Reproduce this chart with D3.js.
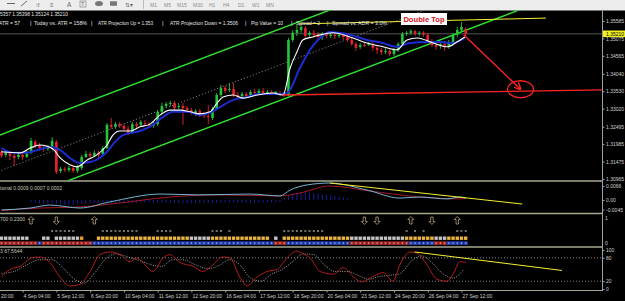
<!DOCTYPE html>
<html><head><meta charset="utf-8">
<script src="https://cdn.jsdelivr.net/npm/d3@7"></script>
<style>
body{margin:0;background:#000;overflow:hidden}
svg{display:block}
text{font-family:"Liberation Sans",Arial,sans-serif}
</style></head>
<body><svg id="c" width="625" height="301"></svg>
<script>
// ================= DATA =================
const opens = [1.3176,1.3167,1.3173,1.3164,1.3161,1.3167,1.3161,1.3173,1.3205,1.3196,
1.3190,1.3184,1.3187,1.3205,1.3120,1.3126,1.3123,1.3129,1.3120,1.3129,
1.3161,1.3170,1.3164,1.3173,1.3170,1.3187,1.3255,1.3249,1.3257,1.3252,
1.3243,1.3234,1.3257,1.3255,1.3260,1.3257,1.3252,1.3257,1.3293,1.3310,
1.3316,1.3319,1.3307,1.3310,1.3304,1.3298,1.3290,1.3295,1.3287,1.3281,
1.3275,1.3301,1.3342,1.3363,1.3357,1.3360,1.3342,1.3339,1.3345,1.3342,
1.3351,1.3348,1.3354,1.3348,1.3351,1.3348,1.3348,1.3345,1.3342,1.3503,
1.3524,1.3532,1.3538,1.3518,1.3524,1.3518,1.3512,1.3521,1.3515,1.3518,
1.3515,1.3518,1.3515,1.3503,1.3491,1.3483,1.3488,1.3488,1.3491,1.3480,
1.3474,1.3468,1.3471,1.3462,1.3474,1.3491,1.3521,1.3524,1.3529,1.3521,
1.3524,1.3518,1.3500,1.3488,1.3486,1.3491,1.3483,1.3497,1.3518,1.3532,
1.35357];
const highs = [1.3181,1.3179,1.3179,1.3170,1.3173,1.3173,1.3179,1.3217,1.3211,1.3202,
1.3196,1.3196,1.3219,1.3211,1.3132,1.3132,1.3135,1.3135,1.3138,1.3167,
1.3179,1.3176,1.3181,1.3179,1.3193,1.3260,1.3275,1.3263,1.3263,1.3257,
1.3252,1.3263,1.3263,1.3269,1.3269,1.3263,1.3263,1.3298,1.3319,1.3322,
1.3325,1.3325,1.3316,1.3319,1.3310,1.3304,1.3301,1.3301,1.3293,1.3313,
1.3307,1.3348,1.3372,1.3369,1.3377,1.3377,1.3351,1.3351,1.3351,1.3357,
1.3360,1.3360,1.3363,1.3357,1.3357,1.3354,1.3354,1.3351,1.3509,1.3532,
1.3547,1.3547,1.3544,1.3529,1.3532,1.3526,1.3526,1.3526,1.3526,1.3524,
1.3526,1.3524,1.3524,1.3509,1.3497,1.3494,1.3494,1.3497,1.3497,1.3486,
1.3480,1.3480,1.3477,1.3480,1.3497,1.3526,1.3529,1.3535,1.3532,1.3529,
1.3529,1.3524,1.3506,1.3494,1.3497,1.3500,1.3503,1.3524,1.3541,1.3556,
1.35398];
const lows = [1.3158,1.3161,1.3152,1.3135,1.3155,1.3152,1.3158,1.3170,1.3187,1.3181,
1.3176,1.3179,1.3181,1.3111,1.3114,1.3117,1.3117,1.3114,1.3114,1.3123,
1.3158,1.3158,1.3161,1.3158,1.3167,1.3184,1.3243,1.3243,1.3246,1.3237,
1.3225,1.3228,1.3246,1.3249,1.3252,1.3246,1.3246,1.3252,1.3287,1.3304,
1.3310,1.3298,1.3301,1.3255,1.3293,1.3284,1.3281,1.3278,1.3275,1.3257,
1.3269,1.3298,1.3336,1.3348,1.3351,1.3336,1.3331,1.3333,1.3333,1.3336,
1.3342,1.3345,1.3342,1.3345,1.3342,1.3342,1.3339,1.3336,1.3339,1.3497,
1.3515,1.3524,1.3509,1.3512,1.3509,1.3506,1.3503,1.3509,1.3509,1.3506,
1.3509,1.3503,1.3497,1.3486,1.3471,1.3477,1.3483,1.3486,1.3471,1.3462,
1.3459,1.3462,1.3456,1.3456,1.3468,1.3486,1.3515,1.3518,1.3515,1.3515,
1.3512,1.3494,1.3483,1.3474,1.3477,1.3471,1.3477,1.3491,1.3512,1.3526,
1.35124];
const closes = [1.3164,1.3173,1.3164,1.3158,1.3167,1.3161,1.3176,1.3208,1.3193,1.3187,
1.3184,1.3190,1.3208,1.3117,1.3126,1.3123,1.3129,1.3120,1.3132,1.3161,
1.3170,1.3164,1.3173,1.3167,1.3187,1.3255,1.3249,1.3257,1.3252,1.3243,
1.3231,1.3257,1.3252,1.3263,1.3257,1.3252,1.3257,1.3293,1.3310,1.3316,
1.3319,1.3304,1.3310,1.3304,1.3298,1.3290,1.3295,1.3287,1.3281,1.3278,
1.3301,1.3342,1.3363,1.3354,1.3360,1.3342,1.3336,1.3345,1.3339,1.3351,
1.3348,1.3354,1.3348,1.3351,1.3348,1.3351,1.3345,1.3342,1.3503,1.3524,
1.3532,1.3541,1.3515,1.3524,1.3518,1.3512,1.3521,1.3515,1.3518,1.3515,
1.3518,1.3512,1.3503,1.3491,1.3480,1.3488,1.3487,1.3491,1.3480,1.3474,
1.3468,1.3471,1.3462,1.3474,1.3491,1.3521,1.3524,1.3529,1.3521,1.3524,
1.3518,1.3500,1.3488,1.3483,1.3491,1.3483,1.3497,1.3518,1.3532,1.3541,
1.35210];

// moving averages: [bar, price]
const fastMA = [[0,1.3176],[4.4,1.3173],[6.8,1.3187],[9.1,1.3196],[12.2,1.3184],[13.9,1.3158],[16.2,1.3138],[17.9,1.3132],[20.3,1.3152],[22.6,1.3167],[25,1.3196],[26.4,1.3225],[28.1,1.3237],[30.5,1.3237],[32.8,1.3249],[35.2,1.3257],[37.6,1.3284],[39.9,1.3298],[42.3,1.3298],[44.7,1.3293],[47,1.3287],[49.4,1.3293],[51.1,1.3319],[52.5,1.3336],[54.9,1.3342],[57.2,1.3333],[60.5,1.3342],[64.3,1.3348],[66.7,1.3342],[68.4,1.3421],[70,1.3468],[71.4,1.3503],[73.8,1.3512],[75.5,1.3518],[78.6,1.3524],[82.6,1.3512],[86.6,1.3494],[90.4,1.3483],[93.7,1.3474],[96.1,1.3503],[98.5,1.3509],[102.3,1.3494],[105.6,1.3483],[107.9,1.3497],[109.8,1.3512]];
const slowMA = [[0,1.3187],[2.7,1.3173],[6,1.3173],[8.4,1.3181],[11.5,1.3190],[13.9,1.3181],[16.2,1.3158],[18.6,1.3143],[21,1.3146],[23.3,1.3158],[25,1.3176],[26.9,1.3205],[28.8,1.3225],[32.8,1.3237],[35.9,1.3255],[38.3,1.3278],[40.6,1.3293],[44,1.3293],[47,1.3284],[49.4,1.3290],[51.8,1.3307],[54.9,1.3328],[58.2,1.3336],[61.3,1.3345],[66,1.3345],[67.7,1.3348],[70.7,1.3421],[73.1,1.3474],[75.5,1.3509],[77.8,1.3526],[82.6,1.3518],[86.6,1.3503],[90.4,1.3494],[93.7,1.3483],[96.8,1.3494],[100.8,1.3497],[103.9,1.3497],[107,1.3494],[109.8,1.3509]];

// drawn objects: [bar, price]
const channelUpper = [[0,1.3227],[70,1.3554]];
const channelMid   = [[0,1.3122],[100,1.3589]];
const channelLower = [[15,1.3088],[100,1.3485]];
const resistanceLine = [[70.5,1.3550],[129,1.3567]];
const targetLine = [[66.7,1.3342],[142.3,1.3357]];
const projection = [[109.5,1.3518],[123.0,1.3359]];
const bidPrice = 1.35210;

const priceTicks = [1.35585,1.35075,1.34565,1.34040,1.33530,1.33020,1.32495,1.31985,1.31475,1.30965];
const dateBars = [-3,5,13,21,29,37,45,53,61,69,77,85,93,101,109];
const dateLabels = ["20:00","4 Sep 04:00","5 Sep 12:00","6 Sep 20:00","10 Sep 04:00","11 Sep 12:00","12 Sep 20:00","16 Sep 04:00","17 Sep 12:00","18 Sep 20:00","20 Sep 04:00","23 Sep 12:00","24 Sep 20:00","26 Sep 04:00","27 Sep 12:00"];

// MACD panel
const macdMain = [[0,-0.0047],[6.8,-0.0038],[11.5,-0.0024],[18.6,-0.0038],[25.7,-0.0009],[37.6,0.0028],[47,0.0024],[58.9,0.0028],[66,0.0019],[68.4,0.0047],[72.4,0.0071],[77.8,0.0080],[86.6,0.0047],[94.4,0.0009],[99.2,0.0014],[105.6,0.0005],[108.7,0.0014],[110,0.0009]];
const macdSignal = [[0,-0.0050],[9.1,-0.0038],[18.6,-0.0033],[28.1,-0.0014],[39.9,0.0014],[51.8,0.0024],[66,0.0019],[70.7,0.0033],[77.8,0.0066],[87,0.0043],[99.2,0.0014],[108.7,0.0005],[110,0.0007]];
const macdHist = [0,0,0,0,0,0,0,
-0.0010,-0.0014,-0.0016,-0.0018,-0.0016,-0.0014,-0.0018,-0.0022,-0.0024,-0.0024,-0.0022,-0.0020,-0.0018,
-0.0016,-0.0015,-0.0014,-0.0014,-0.0012,-0.0012,-0.0014,-0.0015,-0.0016,-0.0016,
-0.0015,-0.0014,-0.0014,-0.0013,-0.0012,-0.0012,-0.0011,-0.0012,-0.0012,-0.0013,
-0.0014,-0.0014,-0.0015,-0.0015,-0.0016,-0.0016,-0.0015,-0.0015,-0.0014,-0.0014,
-0.0013,-0.0013,-0.0012,-0.0012,-0.0012,-0.0013,-0.0013,-0.0014,-0.0014,-0.0014,
-0.0013,-0.0013,-0.0012,-0.0012,-0.0012,-0.0012,-0.0010,
0.0010,0.0022,0.0030,0.0034,0.0036,0.0036,0.0035,0.0033,0.0030,0.0028,0.0025,0.0022,0.0019,0.0016,0.0012,0.0008,0.0004,
0,0,0,0,0,0,0,0,0,0,0,0,0,0,0,0,0,0,0,0,0,0,0,0,0,0,0];
const macdTrend = [[77.8,0.0080],[123.4,-0.0019]];
const macdTicks = [0.0066,0,-0.0045];
const macdTickLabels = ["0.0066","0.00","-0.0045"];

// signal panel
const arrowsUp = [7,22,97,108];
const arrowsDown = [13,86,89,102];
const crossBars = [12,13,14,15,16,17,24,25,26,27,28,29,30,31,32,37,38,39,40,50,51,52,54,67,68,69,70,71,72,73,74,75,76,96,98,100,108,109,110];
const squareRuns = [["g",7],["",3],["g",2],["",1],["g",6],["o",1],["",3],["y",22],["g",5],["y",14],["",1],["g",1],["",1],["y",16],["g",13],["y",7],["g",3],["y",5]];
const dotRuns = [["r",9],["b",1],["r",12],["b",43],["r",3],["b",15],["r",14],["b",6],["r",3],["b",5]];

// stochastic panel: [bar, value]
const stochK = [[0,32],[2,50],[4.4,58],[7.2,80],[9.1,82],[11.5,68],[13.9,30],[16.2,8],[18.6,12],[21,45],[23.3,88],[25.7,95],[28.1,88],[30.5,70],[32.1,80],[33.5,68],[35.9,45],[38.3,80],[39.9,88],[42.3,68],[45.4,58],[47.7,45],[50.1,62],[52.3,82],[54.1,80],[56.5,30],[58.2,8],[60.5,30],[62.9,45],[65.3,50],[67.7,80],[69.9,97],[71.5,90],[73.1,80],[75.5,45],[78.6,38],[81,55],[83.3,32],[85.4,18],[88,32],[90.4,42],[92.8,20],[94.4,62],[96.8,95],[98.5,92],[100.8,62],[103.2,25],[105.6,20],[107,38],[108.7,70],[110,68]];
const stochD = [[0,40],[3,45],[6,62],[9,75],[12,75],[14.5,55],[17,28],[19.5,15],[22,40],[24.5,75],[27,90],[30,82],[33,72],[35.5,62],[38,58],[40.5,75],[43,75],[46,62],[49,52],[51.5,60],[54,75],[56.5,62],[59,28],[61.5,20],[64,38],[66.5,50],[69,70],[71.5,90],[74,88],[76.5,62],[79,45],[82,45],[84.5,35],[87,25],[89.5,32],[92,35],[94.5,40],[97,70],[99.5,85],[102,68],[104.5,40],[107,28],[109.5,50]];
const stochTrend = [[97.9,95],[132.8,47.5]];
const stochTicks = [100,80,20,0];
const stochLevels = [80,20];

const timeframes = ["M1","M5","M15","M30","H1","H4","D1","W1","MN"];

// ================= DRAW =================
const svg = d3.select("#c");
const AX = 602.5;
const x = d3.scaleLinear().domain([0,110]).range([1.5,465.7]);
const y = d3.scaleLinear().domain([1.30965,1.35585]).range([179,21]);
const yM = d3.scaleLinear().domain([-0.0045,0.0066]).range([209.5,186]);
const ySig = d3.scaleLinear().domain([0,1]).range([243,218]);
const yS = d3.scaleLinear().domain([0,100]).range([289,250]);

svg.append("rect").attr("width",625).attr("height",301).attr("fill","#000");

const defs = svg.append("defs");
function clip(id,x0,y0,w,h){defs.append("clipPath").attr("id",id).append("rect").attr("x",x0).attr("y",y0).attr("width",w).attr("height",h);}
clip("cMain",0,10.5,AX,170);
clip("cMacd",0,182,AX,30.5);
clip("cStoch",0,248,AX,42);
defs.append("marker").attr("id","arr").attr("viewBox","0 0 10 10").attr("refX",9).attr("refY",5)
  .attr("markerWidth",5).attr("markerHeight",5).attr("orient","auto")
  .append("path").attr("d","M0,0 L10,5 L0,10").attr("fill","none").attr("stroke","#ff2020").attr("stroke-width",2);

// ---- toolbar ----
const tb = svg.append("g");
tb.append("rect").attr("width",625).attr("height",10.5).attr("fill","#ededed");
tb.append("line").attr("x1",7).attr("x2",15).attr("y1",3.5).attr("y2",3.5).attr("stroke","#666");
tb.append("line").attr("x1",21).attr("x2",27).attr("y1",6).attr("y2",1).attr("stroke","#666");
tb.append("text").attr("x",36).attr("y",7).attr("font-size",6).attr("fill","#666").text("⁞f");
tb.append("text").attr("x",50).attr("y",7).attr("font-size",6).attr("fill","#666").text("≡");
tb.append("text").attr("x",67).attr("y",7).attr("font-size",6.5).attr("fill","#666").text("A");
tb.append("rect").attr("x",80).attr("y",1).attr("width",6).attr("height",6).attr("fill","none").attr("stroke","#777").attr("stroke-width",0.6);
tb.append("text").attr("x",81.3).attr("y",6.3).attr("font-size",5).attr("fill","#666").text("T");
tb.append("ellipse").attr("cx",99).attr("cy",3.5).attr("rx",4).attr("ry",2.6).attr("fill","#777");
tb.append("rect").attr("x",110).attr("y",1.3).attr("width",7).attr("height",4.5).attr("fill","#777");
tb.append("text").attr("x",125).attr("y",7).attr("font-size",6).attr("fill","#666").text("⇅▾");
tb.append("line").attr("x1",143.5).attr("x2",143.5).attr("y1",0).attr("y2",9).attr("stroke","#bbb");
tb.selectAll("text.tf").data(timeframes).join("text").attr("class","tf")
  .attr("x",(d,i)=>[150,164,177,193,209,223,238,252,266][i]).attr("y",6.5)
  .attr("font-size",5).attr("fill","#8a8a8a").text(d=>d);

// ---- panel separators & axis line ----
const sep = svg.append("g").attr("stroke","#a8a890");
[181,213.5,247].forEach(v=>sep.append("line").attr("x1",0).attr("x2",AX).attr("y1",v).attr("y2",v).attr("stroke-width",1.6));
sep.append("line").attr("x1",0).attr("x2",AX).attr("y1",290.5).attr("y2",290.5).attr("stroke-width",1);
svg.append("line").attr("x1",AX).attr("x2",AX).attr("y1",10.5).attr("y2",291).attr("stroke","#a0a0a0");

// ---- main panel ----
const main = svg.append("g").attr("clip-path","url(#cMain)");
const seg = () => d3.line().x(d=>x(d[0])).y(d=>y(d[1]));
function ray(pts){ // extend line through two data points across the panel
  const [a,b]=pts; const s=(b[1]-a[1])/(b[0]-a[0]);
  return [[-5,a[1]+s*(-5-a[0])],[150,a[1]+s*(150-a[0])]];
}
main.append("line").attr("x1",0).attr("x2",AX).attr("y1",y(bidPrice)).attr("y2",y(bidPrice)).attr("stroke","#6e6e6e").attr("stroke-width",0.8);
main.append("path").attr("d",seg()(ray(channelMid))).attr("stroke","#9a9a9a").attr("stroke-dasharray","1.2,2").attr("fill","none").attr("stroke-width",0.8);
[channelUpper,channelLower].forEach(c=>{
  const pts = c===channelLower ? [c[0],ray(c)[1]] : ray(c);
  main.append("path").attr("d",seg()(pts)).attr("stroke","#2ee82e").attr("stroke-width",1.4).attr("fill","none");
});

const idx = d3.range(closes.length);
const cg = main.append("g");
cg.selectAll("line.w").data(idx).join("line").attr("class","w")
  .attr("x1",i=>x(i)).attr("x2",i=>x(i)).attr("y1",i=>y(highs[i])).attr("y2",i=>y(lows[i]))
  .attr("stroke",i=>closes[i]>=opens[i]?"#22c83a":"#e8232d").attr("stroke-width",0.9);
cg.selectAll("rect.b").data(idx).join("rect").attr("class","b")
  .attr("x",i=>x(i)-1.3).attr("width",2.6)
  .attr("y",i=>y(Math.max(opens[i],closes[i])))
  .attr("height",i=>Math.max(1,Math.abs(y(opens[i])-y(closes[i]))))
  .attr("fill",i=>closes[i]>=opens[i]?"#22c83a":"#e8232d");

main.append("path").datum(slowMA).attr("d",d3.line().x(d=>x(d[0])).y(d=>y(d[1])).curve(d3.curveMonotoneX))
  .attr("stroke","#1c2cd0").attr("stroke-width",2).attr("fill","none");
main.append("path").datum(fastMA).attr("d",d3.line().x(d=>x(d[0])).y(d=>y(d[1])).curve(d3.curveMonotoneX))
  .attr("stroke","#ffffff").attr("stroke-width",1.1).attr("fill","none");

main.append("path").datum(resistanceLine).attr("d",seg()).attr("stroke","#f4f030").attr("stroke-width",1).attr("fill","none");
main.append("path").datum(targetLine).attr("d",seg()).attr("stroke","#ff2424").attr("stroke-width",1.4).attr("fill","none");
main.append("path").datum(projection).attr("d",seg()).attr("stroke","#ff2424").attr("stroke-width",1.4).attr("fill","none").attr("marker-end","url(#arr)");
main.append("ellipse").attr("cx",x(projection[1][0])).attr("cy",y(projection[1][1])).attr("rx",13).attr("ry",8.5)
  .attr("fill","none").attr("stroke","#ff2424").attr("stroke-width",1.3);

// Double Top label
svg.append("rect").attr("x",401).attr("y",13).attr("width",46).attr("height",12).attr("fill","#fff");
svg.append("text").attr("x",424).attr("y",22.3).attr("text-anchor","middle").attr("font-size",7.6).attr("font-weight","bold").attr("fill","#d4101c").text("Double Top");

// header texts
const hdr = svg.append("g").attr("fill","#e6e6e6").attr("font-size",5.6);
hdr.append("text").attr("x",0).attr("y",16).attr("textLength",68).attr("lengthAdjust","spacingAndGlyphs").text("5357 1.35398 1.35124 1.35210");
[["ATR = 57",-1,21],["|",30,1.5],["Today vs. ATR = 158%",34,53],["|",91,1.5],["ATR Projection Up = 1.353",98,55],["|",162,1.5],["ATR Projection Down = 1.3506",170,68],["|",245,1.5],["Pip Value = 10",251,32],["|",291,1.5],["Spread = 2",296,24],["|",327,1.5],["Spread vs. ADR = 3.0%",332,55]]
  .forEach(s=>hdr.append("text").attr("x",s[1]).attr("y",25).attr("textLength",s[2]).attr("lengthAdjust","spacingAndGlyphs").text(s[0]));

// price axis
svg.append("g").attr("transform",`translate(${AX},0)`)
  .call(d3.axisRight(y).tickValues(priceTicks).tickFormat(d3.format(".5f")).tickSize(2).tickPadding(1.5));
// bid label
svg.append("rect").attr("x",AX+0.5).attr("y",y(bidPrice)-3.3).attr("width",22).attr("height",6.6).attr("fill","#f0f020");
svg.append("text").attr("x",AX+3.5).attr("y",y(bidPrice)+2).attr("font-size",5).attr("fill","#000").text(d3.format(".5f")(bidPrice));

// ---- MACD panel ----
const mg = svg.append("g").attr("clip-path","url(#cMacd)");
mg.selectAll("line.h").data(idx).join("line").attr("class","h")
  .attr("x1",i=>x(i)).attr("x2",i=>x(i)).attr("y1",yM(0)).attr("y2",i=>yM(macdHist[i]))
  .attr("stroke","#1a22a8").attr("stroke-width",0.9);
const lm = d3.line().x(d=>x(d[0])).y(d=>yM(d[1])).curve(d3.curveMonotoneX);
mg.append("path").datum(macdSignal).attr("d",lm).attr("stroke","#a01c2c").attr("stroke-width",1).attr("fill","none");
mg.append("path").datum(macdMain).attr("d",lm).attr("stroke","#7ec8e8").attr("stroke-width",0.9).attr("fill","none");
mg.append("path").datum(macdTrend).attr("d",d3.line().x(d=>x(d[0])).y(d=>yM(d[1]))).attr("stroke","#f4f030").attr("stroke-width",1).attr("fill","none");
svg.append("text").attr("x",0).attr("y",190).attr("font-size",5).attr("fill","#c8c8b8").text("tional 0.0009 0.0007 0.0002");
svg.append("g").attr("transform",`translate(${AX},0)`)
  .call(d3.axisRight(yM).tickValues(macdTicks).tickFormat((d,i)=>macdTickLabels[i]).tickSize(2).tickPadding(1.5));

// ---- signal panel ----
const sg = svg.append("g");
svg.append("text").attr("x",0).attr("y",220.5).attr("font-size",5).attr("fill","#c8c8b8").text("700 0.2300");
const upPath = "M0,-4 L3,-1 L1.2,-1 L1.2,3.5 L-1.2,3.5 L-1.2,-1 L-3,-1 Z";
sg.selectAll("path.up").data(arrowsUp).join("path").attr("class","up").attr("d",upPath)
  .attr("transform",d=>`translate(${x(d)},220.5)`).attr("fill","none").attr("stroke","#c8b48c").attr("stroke-width",0.7);
sg.selectAll("path.dn").data(arrowsDown).join("path").attr("class","dn").attr("d",upPath)
  .attr("transform",d=>`translate(${x(d)},220.5) scale(1,-1)`).attr("fill","none").attr("stroke","#c8b48c").attr("stroke-width",0.7);
sg.selectAll("path.cx").data(crossBars).join("path").attr("class","cx")
  .attr("d",d=>`M${x(d)-1},230 L${x(d)+1},232 M${x(d)+1},230 L${x(d)-1},232`)
  .attr("stroke","#d8d0c0").attr("stroke-width",0.6);
function expand(runs){const out=[];runs.forEach(([c,n])=>{for(let k=0;k<n;k++)out.push(c);});return out;}
const sq = expand(squareRuns), dots = expand(dotRuns);
const sqCol = {g:"#c4c4c4",y:"#e8b444",o:"#e89a30"};
sg.selectAll("rect.sq").data(idx.filter(i=>sq[i])).join("rect").attr("class","sq")
  .attr("x",i=>x(i)-1.7).attr("y",236.5).attr("width",3.4).attr("height",3.4).attr("fill",i=>sqCol[sq[i]]);
const dCol = {r:"#a82828",b:"#2242b4"}, dIn = {r:"#f0b0a0",b:"#b0c4f8"};
sg.selectAll("rect.dt").data(idx).join("rect").attr("class","dt")
  .attr("x",i=>x(i)-2.1).attr("y",241.3).attr("width",4.2).attr("height",3.6).attr("fill",i=>dCol[dots[i]]);
sg.selectAll("rect.di").data(idx).join("rect").attr("class","di")
  .attr("x",i=>x(i)-0.6).attr("y",242.5).attr("width",1.2).attr("height",1.2).attr("fill",i=>dIn[dots[i]]);
svg.append("g").attr("transform",`translate(${AX},0)`)
  .call(d3.axisRight(ySig).tickValues([1,0]).tickFormat(d3.format("d")).tickSize(0).tickPadding(2.5));

// ---- stochastic panel ----
const st = svg.append("g").attr("clip-path","url(#cStoch)");
stochLevels.forEach(v=>st.append("line").attr("x1",0).attr("x2",AX).attr("y1",yS(v)).attr("y2",yS(v))
  .attr("stroke","#b8b8b8").attr("stroke-width",0.7).attr("stroke-dasharray","1,2"));
const ls = d3.line().x(d=>x(d[0])).y(d=>yS(d[1])).curve(d3.curveMonotoneX);
st.append("path").datum(stochD).attr("d",ls).attr("stroke","#e0e0e0").attr("stroke-width",0.7).attr("stroke-dasharray","1,1.3").attr("fill","none");
st.append("path").datum(stochK).attr("d",ls).attr("stroke","#c42020").attr("stroke-width",0.9).attr("fill","none");
st.append("path").datum(stochTrend).attr("d",d3.line().x(d=>x(d[0])).y(d=>yS(d[1]))).attr("stroke","#f4f030").attr("stroke-width",1).attr("fill","none");
svg.append("text").attr("x",0).attr("y",253).attr("font-size",5).attr("fill","#c8c8b8").text("3 67.5644");
svg.append("g").attr("transform",`translate(${AX},0)`)
  .call(d3.axisRight(yS).tickValues(stochTicks).tickFormat(d3.format("d")).tickSize(2).tickPadding(1.5));

// ---- date axis ----
const da = svg.append("g").attr("transform","translate(0,290.5)")
  .call(d3.axisBottom(x).tickValues(dateBars).tickFormat((d,i)=>dateLabels[i]).tickSize(2).tickPadding(1.5));
da.selectAll("text").attr("text-anchor","start").attr("dx",0.5);
// first (partly scrolled-off) label: keep its visible part inside the window
da.selectAll(".tick").filter((d,i)=>i===0).select("text").attr("x",-x(dateBars[0])+0.5).attr("dx",0);

// axis styling
svg.selectAll(".domain").remove();
svg.selectAll(".tick line").attr("stroke","#a0a0a0");
svg.selectAll(".tick text").attr("fill","#d0d0d0").attr("font-size",5).attr("font-family","Liberation Sans, Arial, sans-serif");
</script>
</body></html>
